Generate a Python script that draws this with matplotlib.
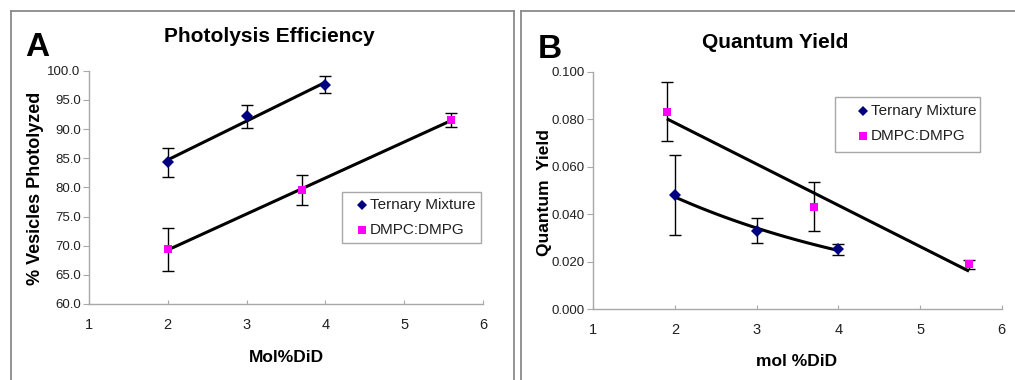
import numpy as np
import matplotlib
matplotlib.use("Agg")
import matplotlib.pyplot as plt
from matplotlib.lines import Line2D
from matplotlib.patches import Rectangle

plt.rcParams['font.family'] = ['Liberation Sans', 'DejaVu Sans']

# ---- Panel A: Photolysis Efficiency ----
a_tern_x = [2, 3, 4]
a_tern_y = [84.3, 92.2, 97.6]
a_tern_err = [2.5, 2.0, 1.5]
a_dmpc_x = [2, 3.7, 5.6]
a_dmpc_y = [69.4, 79.5, 91.6]
a_dmpc_err = [3.7, 2.6, 1.2]
a_yticks = [60.0, 65.0, 70.0, 75.0, 80.0, 85.0, 90.0, 95.0, 100.0]

# ---- Panel B: Quantum Yield ----
b_tern_x = [2, 3, 4]
b_tern_y = [0.0481, 0.0330, 0.0252]
b_tern_err = [0.0168, 0.0053, 0.0024]
b_dmpc_x = [1.9, 3.7, 5.6]
b_dmpc_y = [0.0832, 0.0431, 0.0189]
b_dmpc_err = [0.0125, 0.0103, 0.0019]
b_yticks = [0.000, 0.020, 0.040, 0.060, 0.080, 0.100]

xticks = [1, 2, 3, 4, 5, 6]
series_names = ["Ternary Mixture", "DMPC:DMPG"]

W, H = 1015, 380
fig = plt.figure(figsize=(W / 100, H / 100), dpi=100)

def rect(l, t, r, b):
    return [l / W, 1 - b / H, (r - l) / W, (b - t) / H]

# panel frames
for (l, t, r) in [(11, 11, 514), (521, 11, 1020)]:
    fig.add_artist(Line2D([l / W, l / W], [1 - t / H, -0.05], transform=fig.transFigure,
                          color='#8a8a8a', lw=1.3))
    fig.add_artist(Line2D([l / W, r / W], [1 - t / H, 1 - t / H], transform=fig.transFigure,
                          color='#8a8a8a', lw=1.3))
    if r < W:
        fig.add_artist(Line2D([r / W, r / W], [1 - t / H, -0.05], transform=fig.transFigure,
                              color='#8a8a8a', lw=1.3))

def style_axes(ax):
    for s in ['top', 'right']:
        ax.spines[s].set_visible(False)
    for s in ['left', 'bottom']:
        ax.spines[s].set_color('#a8a8a8')
        ax.spines[s].set_linewidth(1.0)
    ax.tick_params(axis='x', direction='in', length=3, color='#a8a8a8', labelsize=10.5, pad=10,
                   labelcolor='#202020')
    ax.tick_params(axis='y', direction='out', length=4, color='#a8a8a8', labelsize=9.5, pad=2,
                   labelcolor='#202020')
    ax.set_xlim(1, 6)
    ax.set_xticks(xticks)
    ax.set_xticklabels([str(v) for v in xticks])

def draw_series(ax, x, y, err, marker, color, ms, fit='lin'):
    x = np.asarray(x, float); y = np.asarray(y, float)
    xx = np.linspace(x.min(), x.max(), 50)
    if fit == 'lin':
        yy = np.polyval(np.polyfit(x, y, 1), xx)
    else:
        yy = np.exp(np.polyval(np.polyfit(x, np.log(y), 1), xx))
    ax.errorbar(x, y, yerr=err, fmt='none', ecolor='black', elinewidth=1.0,
                capsize=4, capthick=1.0, zorder=2)
    ax.plot(xx, yy, color='black', lw=2.2, zorder=3, solid_capstyle='butt')
    ax.plot(x, y, linestyle='none', marker=marker, color=color, ms=ms, zorder=4,
            markeredgewidth=0)

def legend_box(l, t, r, b, rows):
    fig.add_artist(Rectangle((l / W, 1 - b / H), (r - l) / W, (b - t) / H,
                             transform=fig.transFigure, facecolor='white',
                             edgecolor='#a8a8a8', lw=1.0, zorder=5))
    for (mx, my, marker, color, ms, tx, text) in rows:
        fig.add_artist(Line2D([mx / W], [1 - my / H], transform=fig.transFigure,
                              marker=marker, color=color, ms=ms, markeredgewidth=0,
                              linestyle='none', zorder=6))
        fig.text(tx / W, 1 - my / H, text, fontsize=11, va='center', ha='left', zorder=6,
                 color='#202020')

# ---------- Panel A ----------
axA = fig.add_axes(rect(89, 70.7, 483, 304))
style_axes(axA)
axA.set_ylim(60, 100)
axA.set_yticks(a_yticks)
axA.set_yticklabels([f"{v:.1f}" for v in a_yticks])
draw_series(axA, a_tern_x, a_tern_y, a_tern_err, 'D', '#000080', 6)
draw_series(axA, a_dmpc_x, a_dmpc_y, a_dmpc_err, 's', '#ff00ff', 6)

fig.text(269 / W, 1 - 37 / H, "Photolysis Efficiency", fontsize=15, fontweight='bold',
         ha='center', va='center')
fig.text(37 / W, 1 - 47 / H, "A", fontsize=24, fontweight='bold', ha='center', va='center')
fig.text(36 / W, 1 - 188 / H, "% Vesicles Photolyzed", fontsize=13, fontweight='bold',
         rotation=90, ha='center', va='center')
fig.text(286 / W, 1 - 357 / H, "Mol%DiD", fontsize=12.5, fontweight='bold',
         ha='center', va='center')
legend_box(342, 192, 481, 243,
           [(362, 205.5, 'D', '#000080', 5.5, 370, series_names[0]),
            (362, 229.5, 's', '#ff00ff', 5.5, 370, series_names[1])])

# ---------- Panel B ----------
axB = fig.add_axes(rect(593.3, 71.7, 1001.7, 309.3))
style_axes(axB)
axB.set_ylim(0, 0.1)
axB.set_yticks(b_yticks)
axB.set_yticklabels([f"{v:.3f}" for v in b_yticks])
draw_series(axB, b_tern_x, b_tern_y, b_tern_err, 'D', '#000080', 6, fit='exp')
draw_series(axB, b_dmpc_x, b_dmpc_y, b_dmpc_err, 's', '#ff00ff', 6)

fig.text(775 / W, 1 - 42 / H, "Quantum Yield", fontsize=15, fontweight='bold',
         ha='center', va='center')
fig.text(550 / W, 1 - 49 / H, "B", fontsize=24, fontweight='bold', ha='center', va='center')
fig.text(545 / W, 1 - 193 / H, "Quantum  Yield", fontsize=12.5, fontweight='bold',
         rotation=90, ha='center', va='center')
fig.text(797 / W, 1 - 362 / H, "mol %DiD", fontsize=12.5, fontweight='bold',
         ha='center', va='center')
legend_box(835, 97, 980, 152,
           [(863, 110.5, 'D', '#000080', 5.5, 871, series_names[0]),
            (863, 136.5, 's', '#ff00ff', 5.5, 871, series_names[1])])

fig.savefig("out.png", dpi=100)
